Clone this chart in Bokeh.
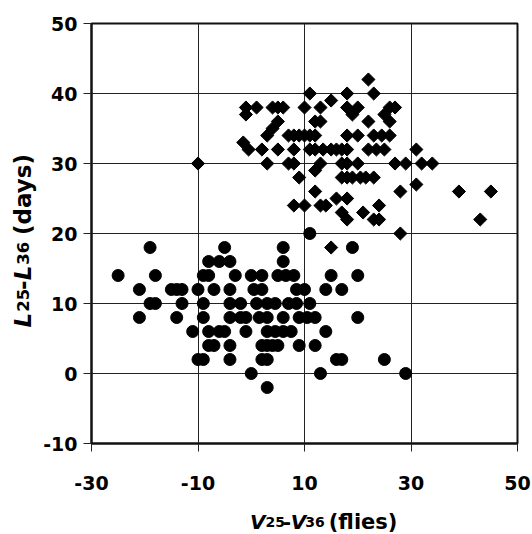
from bokeh.plotting import figure
from bokeh.models import FixedTicker, Range1d, CustomJSTickFormatter
from bokeh.layouts import row, column
from bokeh.core.properties import value
from bokeh.embed import file_html
from bokeh.resources import INLINE
import math

# ---- data ----
x_ticks = [-30, -10, 10, 30, 50]
y_ticks = [-10, 0, 10, 20, 30, 40, 50]

# diamonds series
diamond_x = [22,
             11, 18, 23,
             15,
             -1, 1, 4, 5, 6, 10, 13, 18, 20, 26, 27,
             -1, 19, 25,
             5, 12, 13, 22, 26,
             4,
             3, 7, 8, 9, 10, 11, 12, 18, 20, 23, 24.5, 26,
             -1.5,
             -0.5, 2, 5, 8, 11, 12, 13.5, 15, 16, 17, 18, 22, 23.5, 25, 31,
             -10, 3, 7, 8, 13, 17, 18, 20, 27, 29, 32, 34,
             12,
             9, 17, 18, 19, 20.5, 21.5, 23,
             31,
             12, 28, 39, 45,
             16, 18,
             8, 10, 13, 14, 24,
             17, 21,
             18, 23, 24, 43,
             28,
             15]
diamond_y = [42,
             40, 40, 40,
             39,
             38, 38, 38, 38, 38, 38, 38, 38, 38, 38, 38,
             37, 37, 37,
             36, 36, 36, 36, 36,
             35,
             34, 34, 34, 34, 34, 34, 34, 34, 34, 34, 34, 34,
             33,
             32, 32, 32, 32, 32, 32, 32, 32, 32, 32, 32, 32, 32, 32, 32,
             30, 30, 30, 30, 30, 30, 30, 30, 30, 30, 30, 30,
             29,
             28, 28, 28, 28, 28, 28, 28,
             27,
             26, 26, 26, 26,
             25, 25,
             24, 24, 24, 24, 24,
             23, 23,
             22, 22, 22, 22,
             20,
             18]

# circles series
circle_x = [11,
            -19, -5, 6, 19,
            -8, -6, -4, 6,
            -25, -18, -9, -8, -3, 0, 2, 5, 6.5, 8, 15, 20,
            -21, -15, -14, -13, -10, -7, -4, 0.5, 2, 8.5, 10, 14, 17,
            -19, -18, -13, -9, -4, -2, 1, 3, 4.5, 7, 8.5, 11,
            -21, -14, -9, -4, -2, -1, 1.5, 3, 6, 9, 10.5, 12, 20,
            -11, -8, -6, -5, -1, 3, 4.5, 6, 7.5, 14,
            -8, -7, -4, 2, 3, 4, 5, 9, 12,
            -10, -9, -4, 2, 3, 16, 17, 25,
            0, 13, 29,
            3]
circle_y = [20,
            18, 18, 18, 18,
            16, 16, 16, 16,
            14, 14, 14, 14, 14, 14, 14, 14, 14, 14, 14, 14,
            12, 12, 12, 12, 12, 12, 12, 12, 12, 12, 12, 12, 12,
            10, 10, 10, 10, 10, 10, 10, 10, 10, 10, 10, 10,
            8, 8, 8, 8, 8, 8, 8, 8, 8, 8, 8, 8, 8,
            6, 6, 6, 6, 6, 6, 6, 6, 6, 6,
            4, 4, 4, 4, 4, 4, 4, 4, 4,
            2, 2, 2, 2, 2, 2, 2, 2,
            0, 0, 0,
            -2]

x_title_parts = ["V", "25", "-", "V", "36", "(flies)"]
y_title_parts = ["L", "25", "-", "L", "36", "(days)"]

# ---- layout sizes (pixels) ----
YT_W = 40          # strip for the y title
MAIN_W = 492
MAIN_H = 495
XT_H = 39
TOTAL_H = MAIN_H + XT_H

# ---- main figure ----
p = figure(width=MAIN_W, height=MAIN_H,
           x_range=Range1d(-30, 50), y_range=Range1d(-10, 50),
           output_backend="svg", toolbar_location=None,
           min_border_left=49, min_border_right=15,
           min_border_top=23, min_border_bottom=52)
p.background_fill_color = "white"
p.border_fill_color = "white"
p.outline_line_color = "#111111"
p.outline_line_width = 2

fmt = CustomJSTickFormatter(code="return tick.toFixed(0);")
p.xaxis.ticker = FixedTicker(ticks=x_ticks)
p.yaxis.ticker = FixedTicker(ticks=y_ticks)
p.xaxis.formatter = fmt
p.yaxis.formatter = fmt
p.xgrid.ticker = FixedTicker(ticks=x_ticks[1:-1])
p.ygrid.ticker = FixedTicker(ticks=y_ticks)
for g in (p.xgrid, p.ygrid):
    g.grid_line_color = "#222222"
    g.grid_line_width = 1

for ax in (p.xaxis, p.yaxis):
    ax.axis_line_color = "#111111"
    ax.axis_line_width = 2
    ax.major_tick_line_color = "#222222"
    ax.major_tick_line_width = 1
    ax.major_tick_out = 8
    ax.major_tick_in = 0
    ax.minor_tick_line_color = None
    ax.major_label_text_font = "DejaVu Sans"
    ax.major_label_text_font_style = "bold"
    ax.major_label_text_font_size = "19px"
    ax.major_label_text_color = "black"
p.xaxis.major_label_standoff = 24
p.yaxis.major_label_standoff = 6

p.scatter(circle_x, circle_y, marker="circle", size=12,
          fill_color="black", line_color="black")
p.scatter(diamond_x, diamond_y, marker="square", size=9.3, angle=math.pi / 4,
          fill_color="black", line_color="black")


def strip(w, h):
    f = figure(width=w, height=h, x_range=Range1d(0, w), y_range=Range1d(0, h),
               x_axis_type=None, y_axis_type=None,
               output_backend="svg", toolbar_location=None,
               min_border=0, min_border_left=0, min_border_right=0,
               min_border_top=0, min_border_bottom=0)
    f.grid.visible = False
    f.outline_line_color = None
    f.background_fill_color = "white"
    f.border_fill_color = "white"
    return f


# offsets observed for this text placement (text sits lower / further right)
DROP = 7
XT_SHIFT = 20


def put(f, txt, x, y, size, italic=False, angle=0.0):
    f.text(x=[x], y=[y], text=[txt], angle=angle,
           text_font=value("DejaVu Sans"),
           text_font_style="bold italic" if italic else "bold",
           text_font_size=value(size), text_color="black",
           text_align="left", text_baseline="alphabetic")


ital = [True, False, False, True, False, False]

# ---- x title strip (page x from YT_W, page y from MAIN_H) ----
xt = strip(MAIN_W, XT_H)
xs = [243, 261, 281, 290, 307, 334]
sizes = ["20px", "14px", "20px", "20px", "14px", "21px"]
base_y = 528
for t, px, s, it in zip(x_title_parts, xs, sizes, ital):
    put(xt, t, px - YT_W - XT_SHIFT, TOTAL_H - base_y + DROP, s, it)

# ---- y title strip ----
yt = strip(YT_W, TOTAL_H)
bx = 30 - DROP - 1
ys = [327, 311.3, 289.4, 279.8, 264.2, 234.5]
vs = ["23px", "16.5px", "23px", "23px", "16.5px", "23px"]
for t, py, s, it in zip(y_title_parts, ys, vs, ital):
    put(yt, t, bx, TOTAL_H - py, s, it, angle=math.pi / 2)

layout = row(yt, column(p, xt))
open("out.html", "w").write(file_html(layout, INLINE))
